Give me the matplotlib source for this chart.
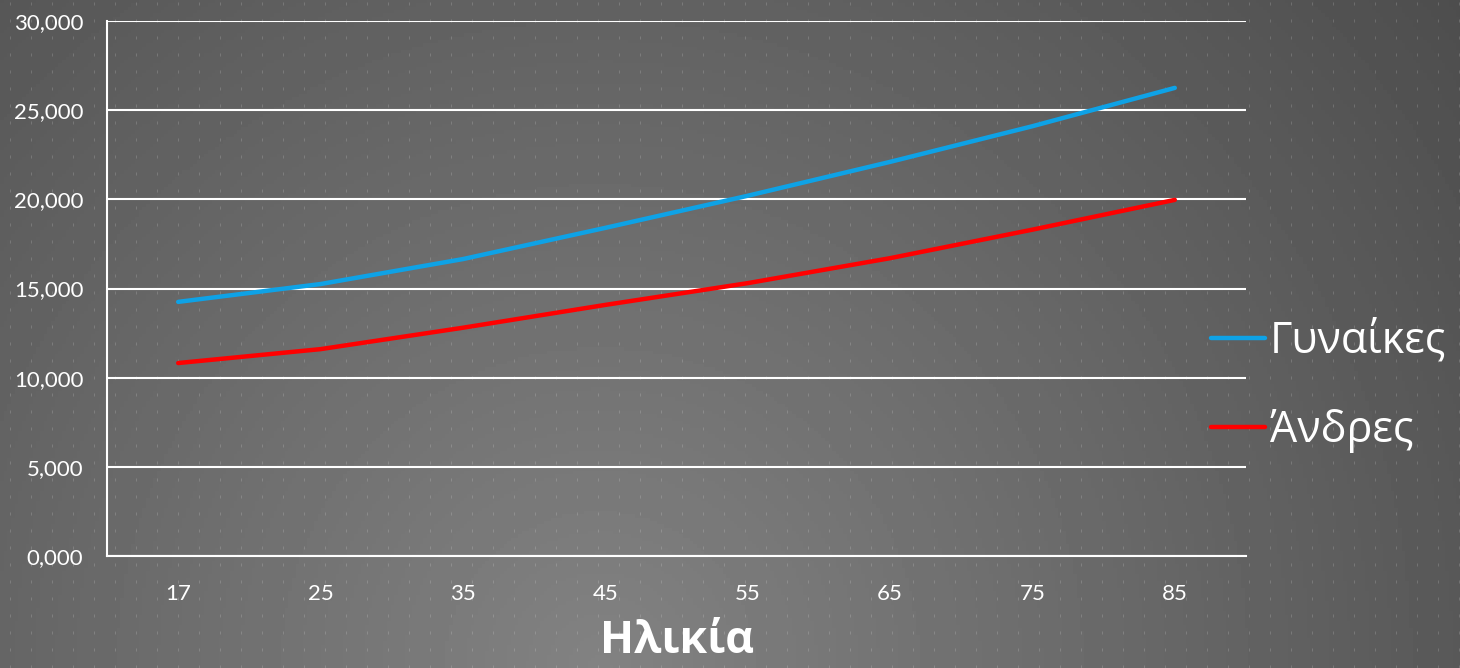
import numpy as np
import matplotlib.pyplot as plt

# dados do gráfico
ilikia = ['17', '25', '35', '45', '55', '65', '75', '85']
gynaikes = [14250, 15250, 16650, 18400, 20200, 22100, 24100, 26250]
andres = [10820, 11600, 12800, 14080, 15300, 16700, 18300, 19970]
y_ticks = [0, 5000, 10000, 15000, 20000, 25000, 30000]

W, H = 1460, 668
fig = plt.figure(figsize=(W / 100, H / 100), dpi=100)

# fundo: gradiente radial + pontinhos
bg = fig.add_axes([0, 0, 1, 1])
px, py = np.meshgrid(np.linspace(0, W, 400), np.linspace(0, H, 200))
d = np.sqrt((px - 600) ** 2 + py ** 2)
g = 0.51 - 1.9e-4 * d
bg.imshow(g, cmap='gray', vmin=0, vmax=1, extent=[0, W, 0, H], aspect='auto', origin='lower')
dx, dy = np.meshgrid(np.arange(9, W, 21), np.arange(3, H, 17))
bg.vlines(dx.ravel() + 0.5, H - dy.ravel() - 1.5, H - dy.ravel() + 1.5, color='white', alpha=0.16, lw=0.72)
bg.set_xlim(0, W)
bg.set_ylim(0, H)
bg.axis('off')

ax = fig.add_axes([107 / W, 1 - 556 / H, (1246 - 107) / W, (556 - 21) / H])
ax.patch.set_alpha(0)
x = np.arange(len(ilikia))
l1, = ax.plot(x, gynaikes, color='#0ea2e6', lw=3.2, solid_capstyle='round', label='Γυναίκες')
l2, = ax.plot(x, andres, color='#ff0000', lw=3.2, solid_capstyle='round', label='Άνδρες')

ax.set_xlim(-0.5, len(ilikia) - 0.5)
ax.set_ylim(0, 30000)
ax.set_yticks(y_ticks)
ax.set_yticklabels([f'{v / 1000:.3f}'.replace('.', ',') for v in y_ticks])
ax.set_xticks(x)
ax.set_xticklabels(ilikia)
ax.grid(axis='y', color='white', lw=1.5)
ax.set_axisbelow(True)
for s in ['top', 'right']:
    ax.spines[s].set_visible(False)
for s in ['left', 'bottom']:
    ax.spines[s].set_color('white')
    ax.spines[s].set_linewidth(1.5)
ax.tick_params(length=0, colors='white', labelsize=16, pad=17)
ax.tick_params(axis='x', pad=20)
for t in ax.get_xticklabels() + ax.get_yticklabels():
    t.set_family(['Lato', 'DejaVu Sans'])

ax.set_xlabel('Ηλικία', color='white', fontsize=32, fontweight='bold',
              family=['Open Sans', 'DejaVu Sans'], labelpad=11)

leg = fig.legend(handles=[l1, l2], loc='center left', bbox_to_anchor=(1211 / W, 1 - 386 / H),
                 frameon=False, borderpad=0, borderaxespad=0, handlelength=1.25, handletextpad=0.12,
                 labelspacing=1.03, prop={'family': ['Open Sans', 'DejaVu Sans'], 'size': 31})
for t in leg.get_texts():
    t.set_color('white')

fig.savefig('out.png', dpi=100)
